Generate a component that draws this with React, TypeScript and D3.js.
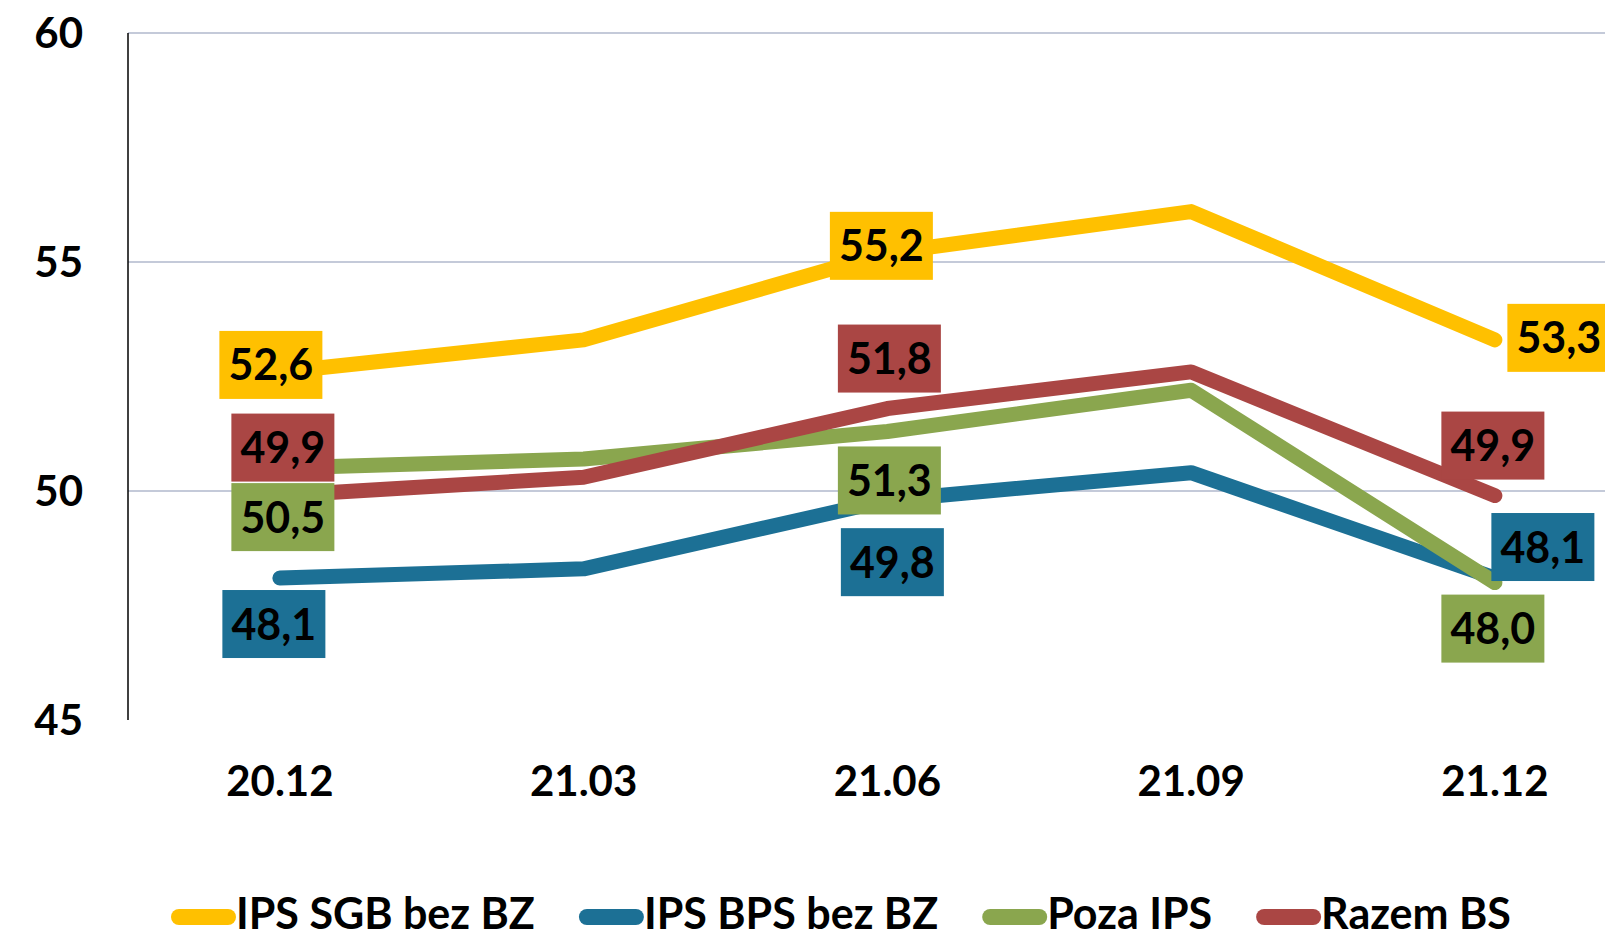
import { useRef, useEffect } from 'react'
import * as d3 from 'd3'

const categories = ['20.12', '21.03', '21.06', '21.09', '21.12']
const sgbValues = [52.6, 53.3, 55.2, 56.1, 53.3]
const bpsValues = [48.1, 48.3, 49.8, 50.4, 48.1]
const pozaValues = [50.5, 50.7, 51.3, 52.2, 48.0]
const razemValues = [49.9, 50.3, 51.8, 52.6, 49.9]
const seriesNames = ['IPS SGB bez BZ', 'IPS BPS bez BZ', 'Poza IPS', 'Razem BS']
const yTicks = [45, 50, 55, 60]

const colors = ['#FFC000', '#1C7095', '#8AA64E', '#AA4644']

// which points get a value label, with a nudge (px) from the point
const labelSpots: number[][][] = [
  [[0, -9, -7], [2, -6, -7], [4, 64, -2]],
  [[0, -6, 46], [2, 5, 62], [4, 48, -31]],
  [[0, 3, 49], [2, 2, 49], [4, -2, 46]],
  [[0, 3, -48], [2, 2, -50], [4, -2, -50]],
]

const W = 1605
const H = 933
const FONT = 'Lato, "Open Sans", sans-serif'
const FS = 42

export default function App() {
  const ref = useRef<SVGSVGElement>(null)

  useEffect(() => {
    const svg = d3.select(ref.current)
    svg.selectAll('*').remove()

    const series = [sgbValues, bpsValues, pozaValues, razemValues]
    const axisX = 128
    const step = 303.75

    const x = d3
      .scalePoint<string>()
      .domain(categories)
      .range([axisX, axisX + step * categories.length])
      .padding(0.5)
    const y = d3.scaleLinear().domain([45, 60]).range([720, 33])

    // gridlines
    svg
      .append('g')
      .selectAll('line')
      .data(yTicks.filter((d) => d > 45))
      .join('line')
      .attr('x1', axisX)
      .attr('x2', W)
      .attr('y1', (d) => y(d))
      .attr('y2', (d) => y(d))
      .style('stroke', '#B0B9CC')
      .style('stroke-width', 1.5)

    // y axis
    svg
      .append('line')
      .attr('x1', axisX)
      .attr('x2', axisX)
      .attr('y1', y(60))
      .attr('y2', y(45))
      .style('stroke', '#000')
      .style('stroke-width', 1.5)

    svg
      .append('g')
      .selectAll('text')
      .data(yTicks)
      .join('text')
      .attr('x', 83)
      .attr('y', (d) => y(d))
      .attr('dy', '0.36em')
      .attr('text-anchor', 'end')
      .attr('font-family', FONT)
      .attr('font-weight', 700)
      .attr('font-size', FS)
      .text((d) => d)

    svg
      .append('g')
      .selectAll('text')
      .data(categories)
      .join('text')
      .attr('x', (d) => x(d) as number)
      .attr('y', 781)
      .attr('dy', '0.36em')
      .attr('text-anchor', 'middle')
      .attr('font-family', FONT)
      .attr('font-weight', 700)
      .attr('font-size', FS)
      .text((d) => d)

    const line = d3
      .line<number>()
      .x((d, i) => x(categories[i]) as number)
      .y((d) => y(d))

    series.forEach((vals, si) => {
      svg
        .append('path')
        .datum(vals)
        .attr('d', line)
        .style('fill', 'none')
        .style('stroke', colors[si])
        .style('stroke-width', 15)
        .style('stroke-linecap', 'round')
        .style('stroke-linejoin', 'round')
    })

    const fmt = (v: number) => v.toFixed(1).replace('.', ',')
    const boxW = 103
    const boxH = 68
    series.forEach((vals, si) => {
      const g = svg.append('g')
      labelSpots[si].forEach(([idx, dx, dy]) => {
        const cx = (x(categories[idx]) as number) + dx
        const cy = y(vals[idx]) + dy
        g.append('rect')
          .attr('x', cx - boxW / 2)
          .attr('y', cy - boxH / 2)
          .attr('width', boxW)
          .attr('height', boxH)
          .style('fill', colors[si])
        g.append('text')
          .attr('x', cx)
          .attr('y', cy)
          .attr('dy', '0.36em')
          .attr('text-anchor', 'middle')
          .attr('font-family', FONT)
          .attr('font-weight', 700)
          .attr('font-size', FS + 1)
          .style('fill', '#000')
          .text(fmt(vals[idx]))
      })
    })

    // legend
    const legend = svg.append('g')
    let lx = 171
    const ly = 917
    seriesNames.forEach((name, si) => {
      legend
        .append('line')
        .attr('x1', lx + 8)
        .attr('x2', lx + 57)
        .attr('y1', ly)
        .attr('y2', ly)
        .style('stroke', colors[si])
        .style('stroke-width', 16)
        .style('stroke-linecap', 'round')
      const t = legend
        .append('text')
        .attr('x', lx + 65)
        .attr('y', 929)
        .attr('font-family', FONT)
        .attr('font-weight', 700)
        .attr('font-size', FS + 1)
        .text(name)
      const tw = (t.node() as SVGTextElement).getComputedTextLength()
      lx = lx + 65 + tw + 44
    })
  }, [])

  return (
    <svg
      ref={ref}
      width={W}
      height={H}
      style={{ position: 'absolute', left: 0, top: 0, background: '#fff' }}
    ></svg>
  )
}
